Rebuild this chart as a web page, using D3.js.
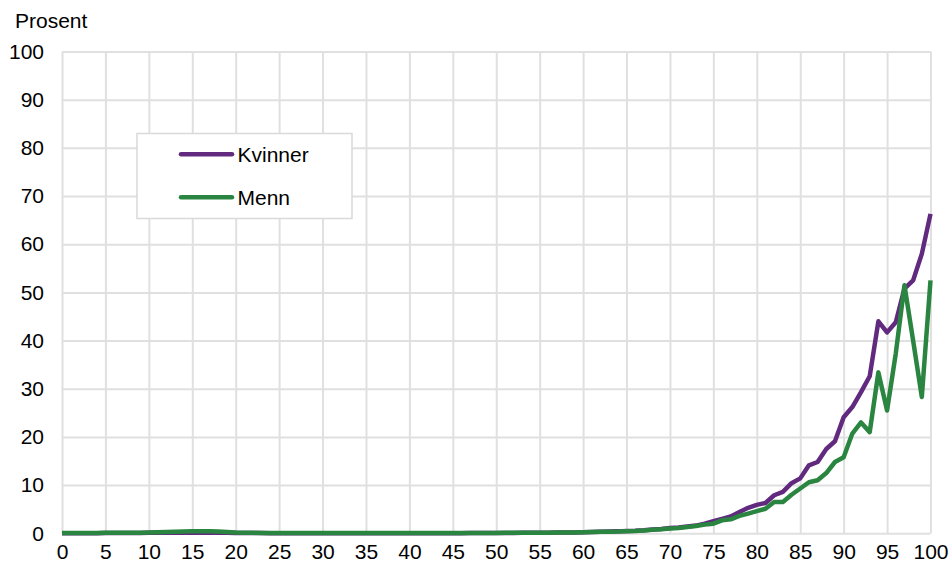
<!DOCTYPE html>
<html>
<head>
<meta charset="utf-8">
<script src="https://cdn.jsdelivr.net/npm/d3@7"></script>
<style>
    body { margin: 0; background: #fff; }
    svg { display: block; font-family: "Liberation Sans", Arial, sans-serif; }
</style>
</head>
<body>
<svg id="chart"></svg>
<script>
"use strict";

// alder 0..100
const ages = d3.range(0, 101);

const kvinner = [
    0.0, 0.0, 0.0, 0.0, 0.0, 0.05, 0.05, 0.05, 0.05, 0.05,
    0.1, 0.1, 0.1, 0.1, 0.1, 0.1, 0.1, 0.15, 0.1, 0.1,
    0.05, 0.05, 0.05, 0.05, 0.0, 0.0, 0.0, 0.0, 0.0, 0.0,
    0.0, 0.0, 0.0, 0.0, 0.0, 0.0, 0.0, 0.0, 0.0, 0.0,
    0.0, 0.0, 0.0, 0.0, 0.0, 0.02, 0.03, 0.05, 0.05, 0.05,
    0.05, 0.05, 0.05, 0.1, 0.1, 0.1, 0.1, 0.15, 0.15, 0.15,
    0.2, 0.25, 0.3, 0.35, 0.4, 0.5, 0.55, 0.65, 0.8, 0.9,
    1.1, 1.2, 1.4, 1.6, 2.0, 2.5, 3.0, 3.5, 4.4, 5.3,
    5.9, 6.3, 7.9, 8.6, 10.4, 11.4, 14.1, 14.8, 17.5, 19.1,
    24.1, 26.2, 29.3, 32.6, 44.0, 41.7, 43.8, 50.8, 52.5, 58.0,
    66.3
];

const menn = [
    0.05, 0.05, 0.05, 0.05, 0.05, 0.1, 0.1, 0.1, 0.1, 0.1,
    0.15, 0.2, 0.25, 0.3, 0.35, 0.4, 0.4, 0.4, 0.35, 0.25,
    0.15, 0.1, 0.1, 0.05, 0.05, 0.05, 0.05, 0.05, 0.05, 0.05,
    0.05, 0.05, 0.05, 0.05, 0.05, 0.05, 0.05, 0.05, 0.05, 0.05,
    0.05, 0.05, 0.05, 0.05, 0.05, 0.05, 0.05, 0.05, 0.05, 0.05,
    0.05, 0.1, 0.1, 0.1, 0.1, 0.1, 0.1, 0.15, 0.15, 0.15,
    0.2, 0.25, 0.3, 0.3, 0.35, 0.45, 0.5, 0.6, 0.75, 0.85,
    1.0, 1.1, 1.3, 1.5, 1.8, 2.0, 2.7, 2.9, 3.6, 4.1,
    4.6, 5.1, 6.5, 6.5, 8.0, 9.3, 10.6, 11.0, 12.5, 14.8,
    15.8, 20.7, 23.0, 21.0, 33.4, 25.5, 37.3, 51.5, 40.0, 28.3,
    52.5
];

const xTicks = d3.range(0, 101, 5);
const yTicks = d3.range(0, 101, 10);

const series = [
    { name: "Kvinner", values: kvinner, color: "#612a7e" },
    { name: "Menn", values: menn, color: "#2a8540" }
];

const width = 949;
const height = 565;
const margin = { top: 51.5, right: 18.5, bottom: 31.7, left: 62 };

const svg = d3.select("#chart")
    .attr("width", width)
    .attr("height", height);

const x = d3.scaleLinear()
    .domain([0, 100])
    .range([margin.left, width - margin.right]);

const y = d3.scaleLinear()
    .domain([0, 100])
    .range([height - margin.bottom, margin.top]);

// gridlines + tick labels
const yAxis = svg.append("g")
    .attr("transform", `translate(${margin.left},0)`)
    .call(d3.axisLeft(y)
        .tickValues(yTicks)
        .tickSize(-(width - margin.left - margin.right))
        .tickPadding(18));

const xAxis = svg.append("g")
    .attr("transform", `translate(0,${height - margin.bottom})`)
    .call(d3.axisBottom(x)
        .tickValues(xTicks)
        .tickSize(-(height - margin.top - margin.bottom))
        .tickPadding(11));

[xAxis, yAxis].forEach(function(ax) {
    ax.select(".domain").remove();
    ax.selectAll(".tick line")
        .attr("stroke", "#e0e0e0")
        .attr("stroke-width", 2);
    ax.selectAll(".tick text")
        .attr("fill", "#000")
        .style("font-size", "21px");
});

// lines
const line = d3.line()
    .x((d, i) => x(ages[i]))
    .y(d => y(d));

svg.append("g")
    .selectAll("path")
    .data(series)
    .join("path")
    .attr("d", d => line(d.values))
    .attr("fill", "none")
    .attr("stroke", d => d.color)
    .attr("stroke-width", 4.5)
    .attr("stroke-linejoin", "round");

// y title
svg.append("text")
    .attr("x", 15)
    .attr("y", 28)
    .style("font-size", "21px")
    .text("Prosent");

// legend
const legend = svg.append("g");

legend.append("rect")
    .attr("x", 137)
    .attr("y", 133.5)
    .attr("width", 215)
    .attr("height", 85)
    .attr("fill", "#fff")
    .attr("stroke", "#d9d9d9")
    .attr("stroke-width", 1.5);

const items = legend.selectAll("g.item")
    .data(series)
    .join("g")
    .attr("class", "item")
    .attr("transform", (d, i) => `translate(0,${154.3 + i * 43})`);

items.append("line")
    .attr("x1", 181)
    .attr("x2", 232)
    .attr("stroke", d => d.color)
    .attr("stroke-width", 4.5)
    .attr("stroke-linecap", "round");

items.append("text")
    .attr("x", 237.5)
    .attr("dy", "0.35em")
    .style("font-size", "21px")
    .text(d => d.name);
</script>
</body>
</html>
